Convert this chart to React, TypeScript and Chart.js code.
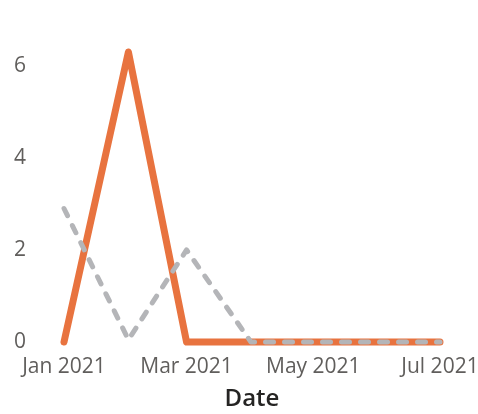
import React, { useEffect, useRef } from "react";
import { Chart, registerables } from "chart.js";

Chart.register(...registerables);

const dates = ["2021-01-01", "2021-02-01", "2021-03-01", "2021-04-01", "2021-05-01", "2021-06-01", "2021-07-01"];
const orangeSeries = [0, 6.3, 0, 0, 0, 0, 0];
const graySeries = [2.9, 0.05, 2, 0, 0, 0, 0];
const xTickDates = ["2021-01-01", "2021-03-01", "2021-05-01", "2021-07-01"];
const xTickLabels = ["Jan 2021", "Mar 2021", "May 2021", "Jul 2021"];
const yTicks = [0, 2, 4, 6];

const origin = Date.UTC(2021, 0, 1);
const toDay = (s: string) => {
  const [y, m, d] = s.split("-").map(Number);
  return (Date.UTC(y, m - 1, d) - origin) / 86400000;
};

export default function App() {
  const ref = useRef<HTMLCanvasElement | null>(null);
  useEffect(() => {
    if (!ref.current) return;
    const xDays = dates.map(toDay);
    const tickDays = xTickDates.map(toDay);
    const font = "'Open Sans', 'Noto Sans', sans-serif";
    const chart = new Chart(ref.current, {
      type: "line",
      data: {
        datasets: [
          {
            label: "Series B",
            data: xDays.map((x, i) => ({ x, y: graySeries[i] })),
            borderColor: "#B4B5B8",
            borderWidth: 5,
            borderDash: [8, 11],
            borderCapStyle: "round",
            borderJoinStyle: "round",
            pointRadius: 0,
            tension: 0,
            clip: 4,
          },
          {
            label: "Series A",
            data: xDays.map((x, i) => ({ x, y: orangeSeries[i] })),
            borderColor: "#E8733F",
            borderWidth: 7,
            pointRadius: 0,
            borderCapStyle: "round",
            borderJoinStyle: "round",
            tension: 0,
            clip: 4,
          },
        ],
      },
      options: {
        animation: false,
        responsive: false,
        layout: { padding: { top: 0, right: 38, left: 14, bottom: 0 } },
        plugins: { legend: { display: false }, tooltip: { enabled: false } },
        scales: {
          x: {
            type: "linear",
            min: tickDays[0],
            max: tickDays[tickDays.length - 1],
            grid: { display: false, drawTicks: false },
            border: { display: false },
            afterBuildTicks: (scale: any) => {
              scale.ticks = tickDays.map((v) => ({ value: v }));
            },
            afterFit: (scale: any) => {
              scale.height = 72;
              scale.paddingLeft = 0;
              scale.paddingRight = 0;
            },
            ticks: {
              autoSkip: false,
              maxRotation: 0,
              padding: 12,
              color: "#605E5C",
              font: { family: font, size: 21 },
              callback: (v: any) => {
                const i = tickDays.indexOf(Number(v));
                return i >= 0 ? xTickLabels[i] : "";
              },
            },
            title: {
              display: true,
              text: "Date",
              color: "#252423",
              font: { family: font, size: 24, weight: "600" },
              padding: { top: 0, bottom: 0 },
            },
          },
          y: {
            min: 0,
            max: 7.43,
            grid: { display: false, drawTicks: false },
            border: { display: false },
            afterBuildTicks: (scale: any) => {
              scale.ticks = yTicks.map((v) => ({ value: v }));
            },
            afterFit: (scale: any) => {
              scale.width = 50;
              scale.paddingTop = 0;
              scale.paddingBottom = 0;
            },
            ticks: {
              padding: 0,
              crossAlign: "far",
              color: "#605E5C",
              font: { family: font, size: 21 },
            },
          },
        },
      },
    });
    return () => chart.destroy();
  }, []);
  return (
    <div style={{ position: "fixed", left: 0, top: 0, width: 478, height: 414, background: "#fff" }}>
      <canvas ref={ref} width={478} height={414} />
    </div>
  );
}
